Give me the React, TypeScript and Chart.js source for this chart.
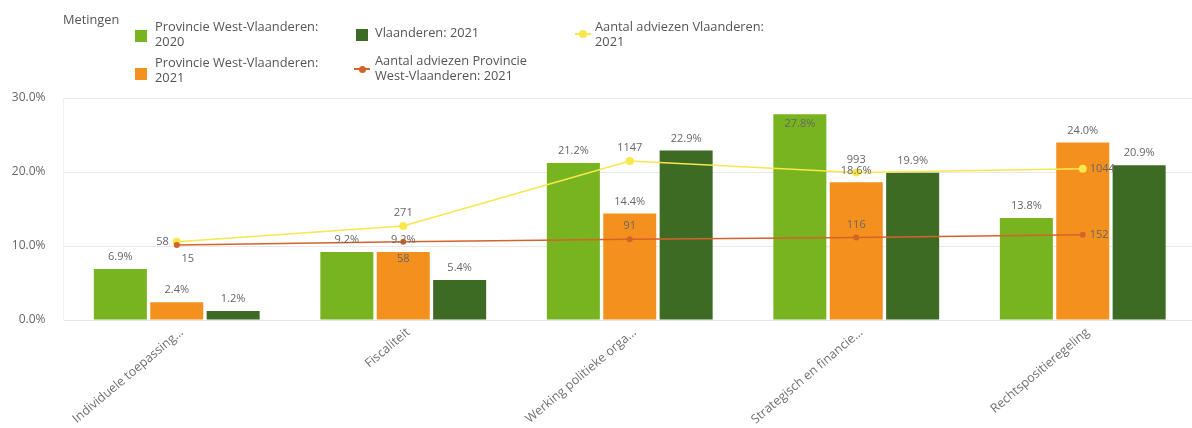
import React, { useEffect, useRef } from "react";
import { Chart, registerables } from "chart.js";

Chart.register(...registerables);

const categories = [
  "Individuele toepassing…",
  "Fiscaliteit",
  "Werking politieke orga…",
  "Strategisch en financie…",
  "Rechtspositieregeling",
];
const provWVL2020 = [6.9, 9.2, 21.2, 27.8, 13.8];
const provWVL2021 = [2.4, 9.2, 14.4, 18.6, 24.0];
const vlaanderen2021 = [1.2, 5.4, 22.9, 19.9, 20.9];
const adviezenProvWVL2021 = [15, 58, 91, 116, 152];
const adviezenVlaanderen2021 = [58, 271, 1147, 993, 1044];
const yTickValues = [0, 10, 20, 30];
const legendTitle = "Metingen";
const seriesNames = [
  "Provincie West-Vlaanderen: 2020",
  "Provincie West-Vlaanderen: 2021",
  "Vlaanderen: 2021",
  "Aantal adviezen Provincie West-Vlaanderen: 2021",
  "Aantal adviezen Vlaanderen: 2021",
];

const COLORS = ["#78b41f", "#f4911e", "#3e6b23", "#d4632b", "#f9e84b"];
const FONT = '"Open Sans", "DejaVu Sans", sans-serif';
const TEXT = "#666666";

// label placement for the two line series (style only)
const provLabelPos = ["bottomRight", "bottom", "top", "top", "right"];
const vlLabelPos = ["left", "top", "top", "top", "right"];

function wrap(name: string, maxChars: number): string[] {
  const words = name.split(" ");
  const lines: string[] = [];
  let cur = "";
  for (const w of words) {
    const next = cur ? cur + " " + w : w;
    if (next.length > maxChars && cur) {
      lines.push(cur);
      cur = w;
    } else cur = next;
  }
  if (cur) lines.push(cur);
  return lines;
}

const labelPlugin = {
  id: "dataLabels",
  afterDatasetsDraw(chart: any) {
    const ctx = chart.ctx;
    const area = chart.chartArea;
    ctx.save();
    ctx.font = `11px ${FONT}`;
    ctx.fillStyle = TEXT;
    ctx.textBaseline = "middle";
    for (let d = 0; d < 3; d++) {
      const meta = chart.getDatasetMeta(d);
      meta.data.forEach((el: any, i: number) => {
        const v = chart.data.datasets[d].data[i] as number;
        const txt = v.toFixed(1) + "%";
        let y = el.y - 12;
        if (y - 7 < area.top) y = el.y + 10;
        ctx.textAlign = "center";
        ctx.fillText(txt, el.x, y);
      });
    }
    const lineSets: [number, string[]][] = [
      [3, provLabelPos],
      [4, vlLabelPos],
    ];
    for (const [d, pos] of lineSets) {
      const meta = chart.getDatasetMeta(d);
      meta.data.forEach((el: any, i: number) => {
        const v = chart.data.datasets[d].data[i] as number;
        const txt = String(v);
        const p = pos[i];
        let x = el.x;
        let y = el.y;
        ctx.textAlign = "center";
        if (p === "top") y -= 13;
        else if (p === "bottom") y += 17;
        else if (p === "bottomRight") {
          y += 14;
          x += 11;
        } else if (p === "left") {
          ctx.textAlign = "right";
          x -= 8;
        } else if (p === "right") {
          ctx.textAlign = "left";
          x += 7;
        }
        ctx.fillText(txt, x, y);
      });
    }
    ctx.restore();
  },
};

function LegendBox() {
  const lh = 15;
  const textStyle = (left: number, top: number): React.CSSProperties => ({
    position: "absolute",
    left,
    top,
    fontFamily: FONT,
    fontSize: 12.8,
    lineHeight: `${lh}px`,
    color: "#555",
    whiteSpace: "nowrap",
  });
  const square = (left: number, top: number, color: string): React.CSSProperties => ({
    position: "absolute",
    left,
    top,
    width: 12,
    height: 12,
    background: color,
  });
  const lineMarker = (cx: number, cy: number, color: string, r: number) => (
    <>
      <div
        style={{
          position: "absolute",
          left: cx - 8,
          top: cy - 1,
          width: 16,
          height: 2,
          background: color,
        }}
      />
      <div
        style={{
          position: "absolute",
          left: cx - r,
          top: cy - r,
          width: r * 2,
          height: r * 2,
          borderRadius: "50%",
          background: color,
        }}
      />
    </>
  );
  const lines = (name: string) =>
    wrap(name, 27).map((l, i) => <div key={i}>{l}</div>);
  return (
    <>
      <div style={textStyle(63, 12)}>{legendTitle}</div>
      <div style={square(135, 30, COLORS[0])} />
      <div style={textStyle(155, 19)}>{lines(seriesNames[0])}</div>
      <div style={square(135, 68, COLORS[1])} />
      <div style={textStyle(155, 55)}>{lines(seriesNames[1])}</div>
      <div style={square(356, 29, COLORS[2])} />
      <div style={textStyle(375, 25)}>{lines(seriesNames[2])}</div>
      {lineMarker(362, 69, COLORS[3], 3.5)}
      <div style={textStyle(375, 53)}>{lines(seriesNames[3])}</div>
      {lineMarker(583, 34, COLORS[4], 4)}
      <div style={textStyle(595, 19)}>{lines(seriesNames[4])}</div>
    </>
  );
}

export default function App() {
  const canvasRef = useRef<HTMLCanvasElement | null>(null);

  useEffect(() => {
    if (!canvasRef.current) return;
    const chart = new Chart(canvasRef.current, {
      type: "bar",
      data: {
        labels: categories,
        datasets: [
          {
            type: "bar",
            label: seriesNames[0],
            data: provWVL2020,
            backgroundColor: COLORS[0],
            yAxisID: "y",
            order: 1,
          },
          {
            type: "bar",
            label: seriesNames[1],
            data: provWVL2021,
            backgroundColor: COLORS[1],
            yAxisID: "y",
            order: 1,
          },
          {
            type: "bar",
            label: seriesNames[2],
            data: vlaanderen2021,
            backgroundColor: COLORS[2],
            yAxisID: "y",
            order: 1,
          },
          {
            type: "line",
            label: seriesNames[3],
            data: adviezenProvWVL2021,
            borderColor: COLORS[3],
            backgroundColor: COLORS[3],
            borderWidth: 1.5,
            pointRadius: 3,
            pointBorderWidth: 0,
            yAxisID: "y2",
            order: 0,
          },
          {
            type: "line",
            label: seriesNames[4],
            data: adviezenVlaanderen2021,
            borderColor: COLORS[4],
            backgroundColor: COLORS[4],
            borderWidth: 1.5,
            pointRadius: 4,
            pointBorderWidth: 0,
            yAxisID: "y2",
            order: 0,
          },
        ] as any,
      },
      options: {
        responsive: false,
        animation: false,
        datasets: {
          bar: { categoryPercentage: 0.747, barPercentage: 0.94 },
        },
        layout: { padding: { top: 98, right: 1.5, left: 0, bottom: 0 } },
        plugins: {
          legend: { display: false },
          tooltip: { enabled: false },
        },
        scales: {
          x: {
            grid: { display: false, drawTicks: false },
            border: { display: true, color: "#e6e6e6" },
            ticks: {
              minRotation: 40,
              maxRotation: 40,
              padding: 5,
              labelOffset: 5,
              color: "#707070",
              font: { family: FONT, size: 12.5 },
              autoSkip: false,
            },
            afterFit: (s: any) => {
              s.height = 108;
            },
          },
          y: {
            min: 0,
            max: 30,
            afterBuildTicks: (s: any) => {
              s.ticks = yTickValues.map((v) => ({ value: v }));
            },
            grid: { color: "#e9e9e9", drawTicks: false },
            border: { display: true, color: "#f0f0f0" },
            ticks: {
              padding: 18,
              color: TEXT,
              font: { family: FONT, size: 12 },
              callback: (v: any) => Number(v).toFixed(1) + "%",
            },
            afterFit: (s: any) => {
              s.width = 63.5;
            },
          },
          y2: {
            display: false,
            min: -1000,
            max: 2000,
            position: "right",
          },
        },
      },
      plugins: [labelPlugin],
    });
    return () => chart.destroy();
  }, []);

  return (
    <div
      style={{
        position: "fixed",
        left: 0,
        top: 0,
        width: 1192,
        height: 428,
        overflow: "hidden",
        background: "#fff",
      }}
    >
      <canvas
        ref={canvasRef}
        width={1200}
        height={428}
        style={{ position: "absolute", left: 0, top: 0 }}
      />
      <LegendBox />
    </div>
  );
}
